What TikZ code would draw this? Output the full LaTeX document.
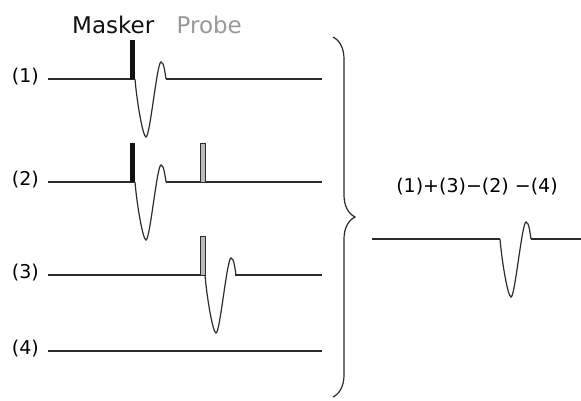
\documentclass[tikz,border=0pt]{standalone}
\usepackage{fontspec}
\setmainfont{DejaVu Sans}
\usepackage{tikz}
\usetikzlibrary{positioning,decorations.pathreplacing}
\definecolor{linec}{HTML}{2B2B2B}
\definecolor{maskc}{HTML}{111111}
\definecolor{probec}{HTML}{999999}
\definecolor{probebar}{HTML}{BBBBBB}
\tikzset{
  trace/.style={draw=linec,line width=1.8pt},
  thin trace/.style={draw=linec,line width=1.2pt},
  lab/.style={inner sep=0pt,font=\fontsize{19}{22}\selectfont},
  head/.style={inner sep=0pt,font=\fontsize{23}{26}\selectfont},
  wave/.style={insert path={.. controls +(2,24) and +(-3,0) .. ++(11,58)
    .. controls +(4,0) and +(-4,0) .. ++(15,-75)
    .. controls +(3,0) and +(-1,-6) .. ++(5,17)}}
}
\newcommand{\masker}[2]{%
  \fill[maskc] (#1-5,#2) rectangle (#1,#2-39);
}
\newcommand{\probe}[2]{%
  \filldraw[fill=probebar,draw=linec,line width=1pt] (#1-5,#2) rectangle (#1,#2-39);
}
\newcommand{\wave}[2]{%
  \draw[thin trace] (#1,#2) [wave];
}

\begin{document}
\begin{tikzpicture}[x=1pt,y=-1pt]
  \useasboundingbox (0,0) rectangle (581,400);
  \node[head,anchor=base west,text=maskc] (mask) at (72,33) {Masker};
  \node[head,base right=22pt of mask,text=probec] (prb) {Probe};
  \foreach \n/\y in {1/79,2/182,3/275,4/351} {
    \coordinate (a\n) at (48,\y);
    \coordinate (b\n) at (322,\y);
    \node[lab,anchor=base east] (l\n) at (39,\y+3) {(\n)};
  }
  % (1) masker alone
  \draw[trace] (a1) -- (135,79);
  \draw[trace] (166,79) -- (b1);
  \wave{135}{79}
  \masker{135}{79}
  % (2) masker and probe
  \draw[trace] (a2) -- (135,182);
  \draw[trace] (166,182) -- (b2);
  \wave{135}{182}
  \masker{135}{182}
  \probe{205}{182}
  % (3) probe alone
  \draw[trace] (a3) -- (205,275);
  \draw[trace] (235,275) -- (b3);
  \wave{205}{275}
  \probe{205}{275}
  % (4) nothing
  \draw[trace] (a4) -- (b4);
  \draw[thin trace,decorate,decoration={brace,amplitude=22pt}] (333,37) -- (333,397);
  \node[lab,anchor=base] (sum) at (477,192) {(1)+(3)−(2) −(4)};
  \coordinate (r0) at (372,239);
  \coordinate (r1) at (581,239);
  \draw[trace] (r0) -- (500,239);
  \draw[trace] (531,239) -- (r1);
  \wave{500}{239}
\end{tikzpicture}
\end{document}
